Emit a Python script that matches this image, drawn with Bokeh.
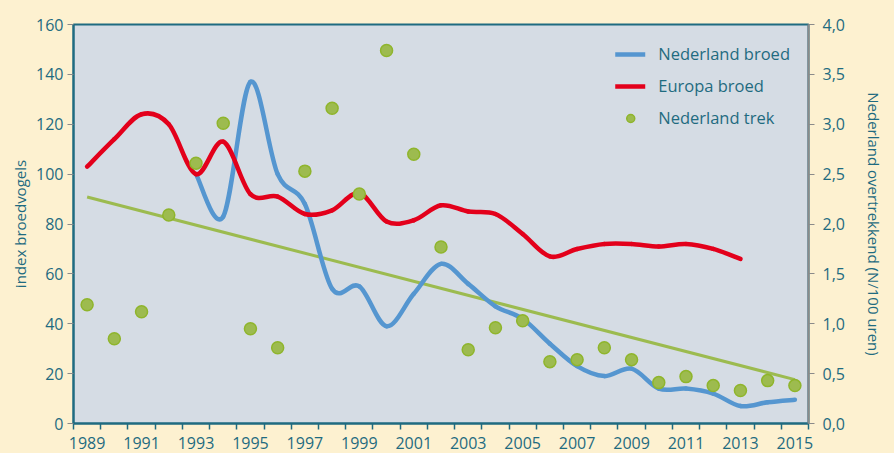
import numpy as np
from bokeh.plotting import figure
from bokeh.models import (Range1d, LinearAxis, FixedTicker, CustomJSTickFormatter,
                          ColumnDataSource)
from bokeh.embed import file_html
from bokeh.resources import INLINE

# ---------------- data ----------------
years = list(range(1989, 2016))
nl_broed_years = list(range(1993, 2016))
nl_broed = [100, 83, 137, 100, 88, 54, 55, 39, 52, 64, 56, 47, 42, 32, 23, 19, 22,
            14, 14, 12, 7, 8.5, 9.5]
eu_broed_years = list(range(1989, 2014))
eu_broed = [103, 114, 124, 120, 100, 113, 92, 91, 84, 85.5, 92.4, 81, 81.5, 87.5,
            85, 84, 76, 67, 70, 72, 72, 71, 72, 70, 66]
nl_trek = [1.19, 0.85, 1.12, 2.09, 2.61, 3.01, 0.95, 0.76, 2.53, 3.16, 2.30, 3.74,
           2.70, 1.77, 0.74, 0.96, 1.03, 0.62, 0.64, 0.76, 0.64, 0.41, 0.47, 0.38,
           0.33, 0.43, 0.38]
trend_years = [1989, 2015]
trend_values = [2.27, 0.44]
label_years = list(range(1989, 2016, 2))

TEAL = "#1f6b80"
FONT = "Open Sans"
BG = "#fdf1d0"


def smooth_source(xs, ys):
    """Bezier segments (Catmull-Rom style control points) through the data points."""
    x = np.asarray(xs, float)
    y = np.asarray(ys, float)
    n = len(x)
    xp = np.concatenate([[x[0]], x, [x[-1]]])
    yp = np.concatenate([[y[0]], y, [y[-1]]])
    d = {k: [] for k in ("x0", "y0", "x1", "y1", "cx0", "cy0", "cx1", "cy1")}
    for i in range(n - 1):
        j = i + 1
        d["x0"].append(xp[j]); d["y0"].append(yp[j])
        d["x1"].append(xp[j + 1]); d["y1"].append(yp[j + 1])
        d["cx0"].append(xp[j] + (xp[j + 1] - xp[j - 1]) / 6)
        d["cy0"].append(yp[j] + (yp[j + 1] - yp[j - 1]) / 6)
        d["cx1"].append(xp[j + 1] - (xp[j + 2] - xp[j]) / 6)
        d["cy1"].append(yp[j + 1] - (yp[j + 2] - yp[j]) / 6)
    return ColumnDataSource(d)


p = figure(width=894, height=453, output_backend="svg", toolbar_location=None,
           x_range=Range1d(1988.5, 2015.5), y_range=Range1d(0, 160),
           min_border_left=73, min_border_right=86, min_border_top=24,
           min_border_bottom=30)
p.extra_y_ranges = {"right": Range1d(0, 4)}

p.background_fill_color = "#d5dce4"
p.border_fill_color = BG
p.outline_line_color = TEAL
p.outline_line_width = 2
p.grid.visible = False

# x axis
xa = p.xaxis[0]
xa.ticker = FixedTicker(ticks=label_years,
                        minor_ticks=[y - 0.5 for y in years] + [years[-1] + 0.5])
xa.major_tick_line_color = None
xa.major_tick_out = 0
xa.major_tick_in = 0
xa.minor_tick_line_color = TEAL
xa.minor_tick_line_width = 1.5
xa.minor_tick_out = 6
xa.minor_tick_in = 0
xa.major_label_standoff = 7
xa.axis_line_color = TEAL
xa.axis_line_width = 2

# left axis
ya = p.yaxis[0]
ya.ticker = FixedTicker(ticks=list(range(0, 161, 20)))
ya.axis_line_color = TEAL
ya.axis_line_width = 2
ya.major_tick_line_color = "#8a8a8a"
ya.major_tick_out = 6
ya.major_tick_in = 0
ya.minor_tick_line_color = None
ya.major_label_standoff = 4
ya.axis_label = "index broedvogels"
ya.axis_label_standoff = 3

# right axis
ra = LinearAxis(y_range_name="right",
                ticker=FixedTicker(ticks=[i * 0.5 for i in range(9)]),
                formatter=CustomJSTickFormatter(code="return tick.toFixed(1).replace('.', ',');"))
ra.axis_line_color = "#8a8a8a"
ra.axis_line_width = 2
ra.major_tick_line_color = "#8a8a8a"
ra.major_tick_out = 6
ra.major_tick_in = 0
ra.minor_tick_line_color = None
ra.major_label_standoff = 8
ra.axis_label = "Nederland overtrekkend (N/100 uren)"
ra.axis_label_standoff = 16
p.add_layout(ra, "right")

for ax in (xa, ya, ra):
    ax.major_label_text_font = FONT
    ax.major_label_text_font_size = "16px"
    ax.major_label_text_color = TEAL
    ax.axis_label_text_font = FONT
    ax.axis_label_text_font_size = "15px"
    ax.axis_label_text_font_style = "normal"
    ax.axis_label_text_color = TEAL

# trend line
p.line(trend_years, trend_values, y_range_name="right", line_color="#9cbb4f",
       line_width=3)

# smoothed lines
p.bezier(x0="x0", y0="y0", x1="x1", y1="y1", cx0="cx0", cy0="cy0", cx1="cx1",
         cy1="cy1", source=smooth_source(nl_broed_years, nl_broed),
         line_color="#5596d0", line_width=4.5, line_cap="round",
         legend_label="Nederland broed")
p.bezier(x0="x0", y0="y0", x1="x1", y1="y1", cx0="cx0", cy0="cy0", cx1="cx1",
         cy1="cy1", source=smooth_source(eu_broed_years, eu_broed),
         line_color="#e3001b", line_width=4.5, line_cap="round",
         legend_label="Europa broed")

# migrating points
p.scatter(years, nl_trek, y_range_name="right", size=12, fill_color="#9dbb4f",
          line_color="#8fb52c", line_width=1.5, legend_label="Nederland trek")

lg = p.legend[0]
lg.location = "top_right"
lg.background_fill_alpha = 0
lg.border_line_color = None
lg.label_text_font = FONT
lg.label_text_font_size = "16.5px"
lg.label_text_color = TEAL
lg.glyph_width = 30
lg.glyph_height = 20
lg.label_height = 20
lg.spacing = 9
lg.label_standoff = 13
lg.margin = 18
lg.padding = 10

html = file_html(p, INLINE)
html = html.replace("<head>", "<head><style>html,body{background:%s;}</style>" % BG, 1)
open("out.html", "w").write(html)
